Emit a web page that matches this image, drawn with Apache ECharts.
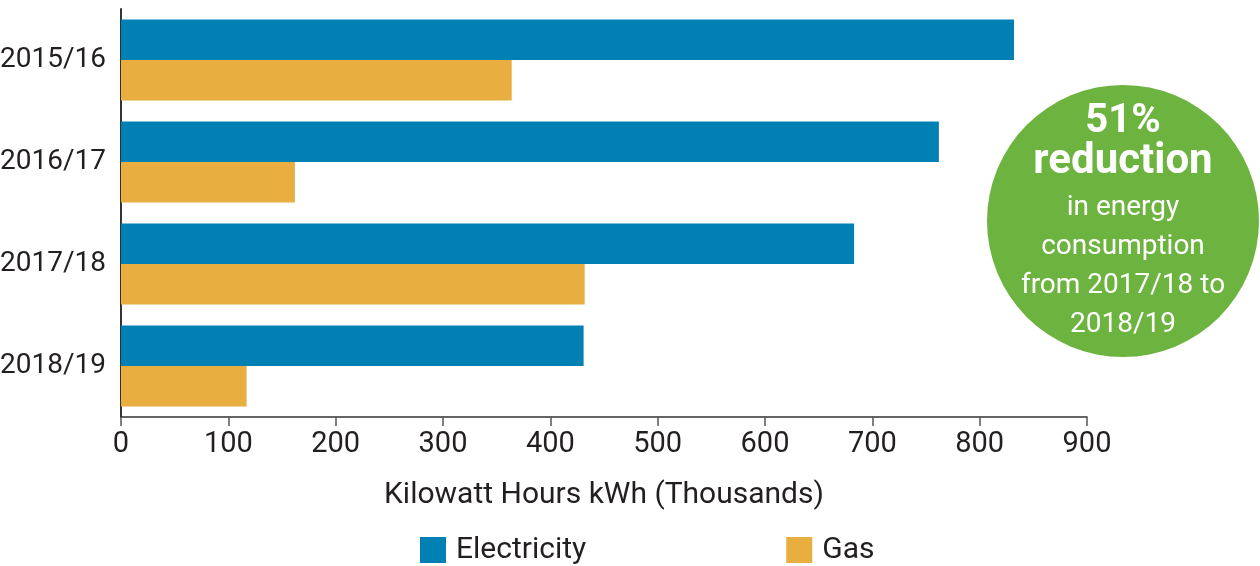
<!DOCTYPE html>
<html>
<head>
<meta charset="utf-8">
<script src="https://cdn.jsdelivr.net/npm/echarts@6/dist/echarts.min.js"></script>
<style>
  html, body { margin: 0; padding: 0; background: #fff; }
  #chart { width: 1260px; height: 566px; }
</style>
</head>
<body>
<div id="chart"></div>
<script>
// Annual energy use by fuel type, thousands of kWh
const years = ['2015/16', '2016/17', '2017/18', '2018/19'];
const electricity = [832, 762, 683, 431];
const gas = [364, 162, 432, 117];
const xTicks = [0, 100, 200, 300, 400, 500, 600, 700, 800, 900];

const FONT = 'Roboto, "Noto Sans", sans-serif';
const INK = '#231f20';

const chart = echarts.init(document.getElementById('chart'), null, { renderer: 'canvas' });

chart.setOption({
  animation: false,
  grid: { left: 121, right: 173, top: 9, bottom: 149, containLabel: false, outerBoundsMode: 'none' },
  legend: {
    data: ['Electricity', 'Gas'],
    left: 415,
    top: 530,
    itemWidth: 26,
    itemHeight: 26,
    itemGap: 200,
    icon: 'rect',
    textStyle: { fontFamily: FONT, fontSize: 30, color: INK, padding: [0, 0, 0, 5] }
  },
  xAxis: {
    type: 'value',
    min: xTicks[0],
    max: xTicks[xTicks.length - 1],
    interval: 100,
    name: 'Kilowatt Hours kWh (Thousands)',
    nameLocation: 'middle',
    nameGap: 63,
    nameTextStyle: { fontFamily: FONT, fontSize: 30, color: INK },
    axisLine: { show: true, lineStyle: { color: '#333', width: 1.5 } },
    axisTick: { show: true, length: 9, lineStyle: { color: '#555', width: 1.5 } },
    axisLabel: { fontFamily: FONT, fontSize: 29, color: INK, margin: 13 },
    splitLine: { show: false }
  },
  yAxis: {
    type: 'category',
    data: years,
    inverse: true,
    axisLine: { show: true, onZero: false, lineStyle: { color: '#333', width: 2 } },
    axisTick: { show: false },
    axisLabel: { fontFamily: FONT, fontSize: 28, color: INK, margin: 15 }
  },
  series: [
    {
      name: 'Electricity',
      type: 'bar',
      data: electricity,
      barGap: '0%',
      barCategoryGap: '20.6%',
      itemStyle: { color: '#0080b3' }
    },
    {
      name: 'Gas',
      type: 'bar',
      data: gas,
      barGap: '0%',
      barCategoryGap: '20.6%',
      itemStyle: { color: '#e8ae40' }
    }
  ],
  graphic: [
    {
      type: 'circle',
      shape: { cx: 1123, cy: 221, r: 136 },
      style: { fill: '#6db33f' },
      z: 10
    },
    {
      type: 'text',
      x: 1123, y: 122,
      style: { text: '51%', fill: '#fff', font: 'bold 40px ' + FONT, align: 'center', verticalAlign: 'middle' },
      z: 11
    },
    {
      type: 'text',
      x: 1123, y: 162,
      style: { text: 'reduction', fill: '#fff', font: 'bold 42px ' + FONT, align: 'center', verticalAlign: 'middle' },
      z: 11
    },
    {
      type: 'text',
      x: 1123, y: 188,
      style: {
        text: 'in energy\nconsumption\nfrom 2017/18 to\n2018/19',
        fill: '#fff', font: '28px ' + FONT, lineHeight: 39,
        align: 'center', verticalAlign: 'top'
      },
      z: 11
    }
  ]
});
</script>
</body>
</html>
